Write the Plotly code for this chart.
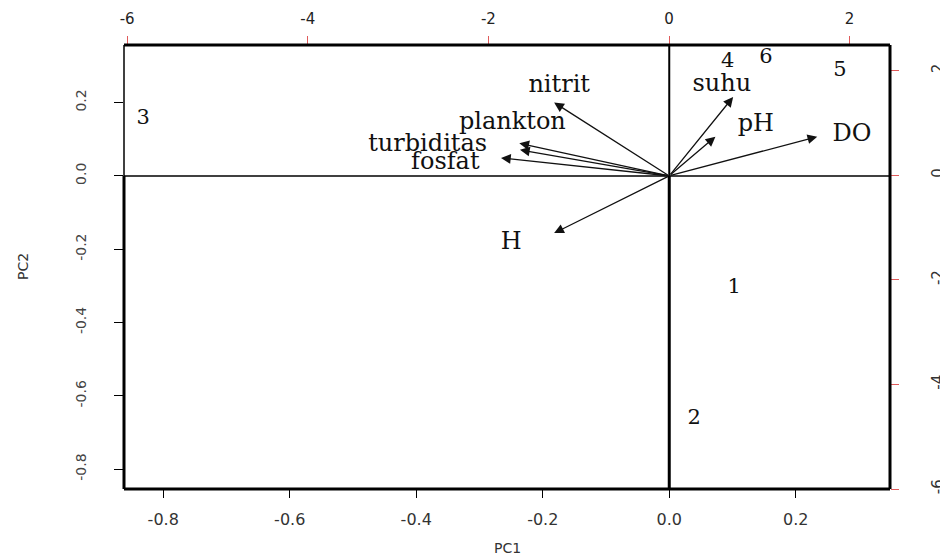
import plotly.graph_objects as go

# PCA biplot: variable loadings (arrows) and sample scores (numbers)
variables = ["nitrit", "plankton", "turbiditas", "fosfat", "H", "suhu", "pH", "DO"]
pc1_load = [-0.182, -0.237, -0.236, -0.266, -0.182, 0.101, 0.073, 0.234]
pc2_load = [0.200, 0.089, 0.071, 0.049, -0.156, 0.215, 0.107, 0.107]
# where the variable names were placed next to the arrow tips
label_x = [-0.174, -0.248, -0.382, -0.354, -0.250, 0.083, 0.137, 0.289]
label_y = [0.246, 0.145, 0.085, 0.035, -0.182, 0.248, 0.139, 0.112]

samples = ["1", "2", "3", "4", "5", "6"]
pc1_score = [0.723, 0.280, -5.822, 0.650, 1.894, 1.074]
pc2_score = [-2.147, -4.665, 1.084, 2.167, 1.994, 2.250]

load_ticks = [-0.8, -0.6, -0.4, -0.2, 0.0, 0.2]
load_ticktext = ["-0.8", "-0.6", "-0.4", "-0.2", "0.0", "0.2"]
score_ticks = [-6, -4, -2, 0, 2]
score_ticktext = ["-6", "-4", "-2", "0", "2"]

x_range = [-0.862, 0.349]
y_range = [-0.854, 0.357]
x2_range = [-6.035, 2.447]
y2_range = [-6.0, 2.49]

red = "#e05a5a"
sans = "DejaVu Sans"
serif = "DejaVu Serif"

fig = go.Figure()

# variable names
fig.add_trace(go.Scatter(x=label_x, y=label_y, mode="text", text=variables,
                         textposition="middle center",
                         textfont=dict(family=serif, size=24, color="#111"),
                         xaxis="x", yaxis="y", hoverinfo="skip", cliponaxis=False))

# sample scores
fig.add_trace(go.Scatter(x=pc1_score, y=pc2_score, mode="text", text=samples,
                         textposition="middle center",
                         textfont=dict(family=serif, size=21, color="#111"),
                         xaxis="x2", yaxis="y2", hoverinfo="skip", cliponaxis=False))

# arrows from the origin
arrows = []
for px_, py_ in zip(pc1_load, pc2_load):
    arrows.append(dict(x=px_, y=py_, ax=0, ay=0, xref="x", yref="y",
                       axref="x", ayref="y", text="", showarrow=True,
                       arrowhead=2, arrowsize=1.5, arrowwidth=1.3,
                       arrowcolor="#111", standoff=0, startstandoff=0))

# axis titles
arrows.append(dict(x=0.5, y=0, xref="paper", yref="paper", text="PC1",
                   showarrow=False, yshift=-59, yanchor="middle",
                   font=dict(family=sans, size=14, color="#333")))
arrows.append(dict(x=0, y=0.5, xref="paper", yref="paper", text="PC2",
                   showarrow=False, xshift=-101, xanchor="center",
                   textangle=-90, font=dict(family=sans, size=14, color="#333")))

shapes = [
    # frame
    dict(type="line", xref="paper", yref="paper", x0=0, x1=1, y0=1, y1=1,
         line=dict(color="black", width=3)),
    dict(type="line", xref="paper", yref="paper", x0=0, x1=1, y0=0, y1=0,
         line=dict(color="black", width=3)),
    dict(type="line", xref="paper", yref="paper", x0=1, x1=1, y0=0, y1=1,
         line=dict(color="black", width=3)),
    dict(type="line", xref="paper", yref="y", x0=0, x1=0, y0=y_range[0], y1=0,
         line=dict(color="black", width=3)),
    dict(type="line", xref="paper", yref="y", x0=0, x1=0, y0=0, y1=y_range[1],
         line=dict(color="black", width=1.5)),
    # zero lines
    dict(type="line", xref="paper", yref="y", x0=0, x1=1, y0=0, y1=0,
         line=dict(color="black", width=1.5)),
    dict(type="line", xref="x", yref="y", x0=0, x1=0, y0=0, y1=y_range[1],
         line=dict(color="black", width=2)),
    dict(type="line", xref="x", yref="y", x0=0, x1=0, y0=y_range[0], y1=0,
         line=dict(color="black", width=3)),
]

# the page body adds an 8px margin, so the figure is 8px smaller and shifted
fig.update_layout(
    width=940, height=552,
    margin=dict(l=116, r=58, t=37, b=71),
    plot_bgcolor="white", paper_bgcolor="white",
    showlegend=False,
    annotations=arrows,
    shapes=shapes,
    xaxis=dict(range=x_range, tickvals=load_ticks, ticktext=load_ticktext,
               ticks="outside", ticklen=8, tickcolor="black", tickwidth=1,
               showgrid=False, zeroline=False, showline=False,
               ticklabelstandoff=8, automargin=False,
               tickfont=dict(family=sans, size=16, color="#333")),
    yaxis=dict(range=y_range, tickvals=load_ticks, ticktext=load_ticktext,
               ticks="outside", ticklen=9, tickcolor="black", tickwidth=1,
               showgrid=False, zeroline=False, showline=False,
               tickangle=-90, ticklabelstandoff=22, automargin=False,
               tickfont=dict(family=sans, size=14, color="#444")),
    xaxis2=dict(range=x2_range, tickvals=score_ticks, ticktext=score_ticktext,
                overlaying="x", side="top", anchor="y",
                ticks="outside", ticklen=8, tickcolor=red, tickwidth=1.2,
                showgrid=False, zeroline=False, showline=False,
                ticklabelstandoff=6, automargin=False,
                tickfont=dict(family=sans, size=15, color="#222")),
    yaxis2=dict(range=y2_range, tickvals=score_ticks, ticktext=score_ticktext,
                overlaying="y", side="right", anchor="x",
                ticks="outside", ticklen=8, tickcolor=red, tickwidth=1.2,
                showgrid=False, zeroline=False, showline=False,
                tickangle=-90, ticklabelstandoff=26, automargin=False,
                tickfont=dict(family=sans, size=15, color="#333")),
)

fig.write_html("out.html")
